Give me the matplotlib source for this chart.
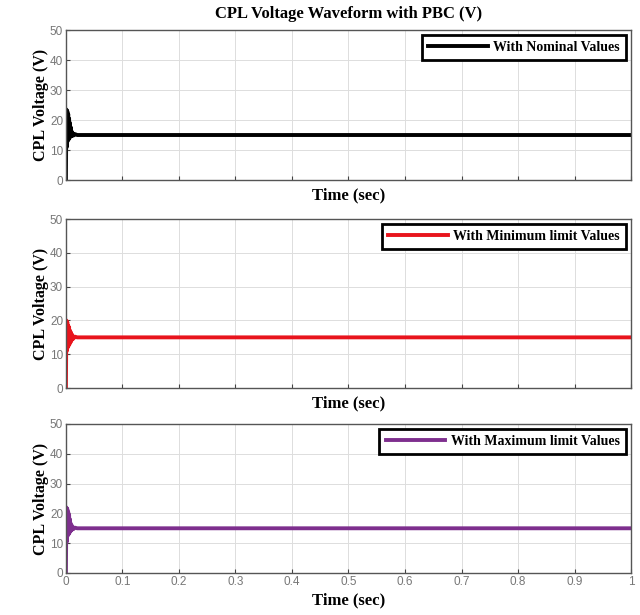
import numpy as np
import matplotlib
matplotlib.use("Agg")
import matplotlib.pyplot as plt

# transient + settled points (sec, V)
time_s = [0.0, 0.0008, 0.0016, 0.0024, 0.0032, 0.004, 0.0048, 0.0056, 0.0064,
          0.0072, 0.008, 0.0088, 0.0096, 0.011, 0.013, 0.016, 0.02, 0.05, 1.0]
v_nominal = [0.0, 23.5, 11.0, 23.0, 13.0, 22.0, 13.5, 20.5, 14.0,
             19.0, 14.5, 17.5, 14.6, 16.0, 14.8, 15.3, 15.0, 15.0, 15.0]
v_min = [0.0, 20.0, 11.0, 19.5, 12.0, 18.5, 12.5, 18.0, 13.0,
         17.0, 13.5, 16.5, 14.0, 15.8, 14.6, 15.2, 15.0, 15.0, 15.0]
v_max = [0.0, 22.0, 10.5, 21.5, 12.5, 20.5, 13.0, 19.5, 13.5,
         18.0, 14.0, 16.5, 14.3, 15.8, 14.7, 15.2, 15.0, 15.0, 15.0]

series = [
    (v_nominal, "black", "With Nominal Values"),
    (v_min, "#e8141c", "With Minimum limit Values"),
    (v_max, "#7e2f8e", "With Maximum limit Values"),
]

xticks = [0, 0.1, 0.2, 0.3, 0.4, 0.5, 0.6, 0.7, 0.8, 0.9, 1]
xticklabels = ["0", "0.1", "0.2", "0.3", "0.4", "0.5", "0.6", "0.7", "0.8", "0.9", "1"]
yticks = [0, 10, 20, 30, 40, 50]

serif = "Liberation Serif"
fig = plt.figure(figsize=(6.4, 6.15), dpi=100)
boxes = [
    [0.103, 0.7073, 0.883, 0.2439],
    [0.103, 0.369, 0.883, 0.2748],
    [0.103, 0.0683, 0.883, 0.2423],
]

for i, (vals, col, lab) in enumerate(series):
    ax = fig.add_axes(boxes[i])
    ax.plot(time_s, vals, color=col, lw=2.8, label=lab)
    ax.set_xlim(0, 1)
    ax.set_ylim(0, 50)
    ax.set_xticks(xticks)
    ax.set_yticks(yticks)
    if i == 2:
        ax.set_xticklabels(xticklabels)
    else:
        ax.set_xticklabels([])
    ax.tick_params(labelsize=8.5, labelcolor="#777777", direction="in",
                   length=3, color="#444444", pad=2)
    for lb in ax.get_xticklabels() + ax.get_yticklabels():
        lb.set_family("Liberation Sans")
    ax.grid(True, color="#dddddd", lw=0.7)
    for sp in ax.spines.values():
        sp.set_color("#555555")
        sp.set_linewidth(1.0)
    ax.set_xlabel("Time (sec)", family=serif, fontweight="bold", fontsize=12, labelpad=3)
    ax.set_ylabel("CPL Voltage (V)", family=serif, fontweight="bold", fontsize=11.5, labelpad=1)
    leg = ax.legend(loc="upper right", prop={"family": serif, "weight": "bold", "size": 10},
                    fancybox=False, framealpha=1, handlelength=4.3, handletextpad=0.4,
                    borderpad=0.45, borderaxespad=0.35)
    leg.get_frame().set_edgecolor("black")
    leg.get_frame().set_linewidth(2.0)
    if i == 0:
        ax.set_title("CPL Voltage Waveform with PBC (V)", family=serif,
                     fontweight="bold", fontsize=12, pad=9)

fig.savefig("out.png", dpi=100)
